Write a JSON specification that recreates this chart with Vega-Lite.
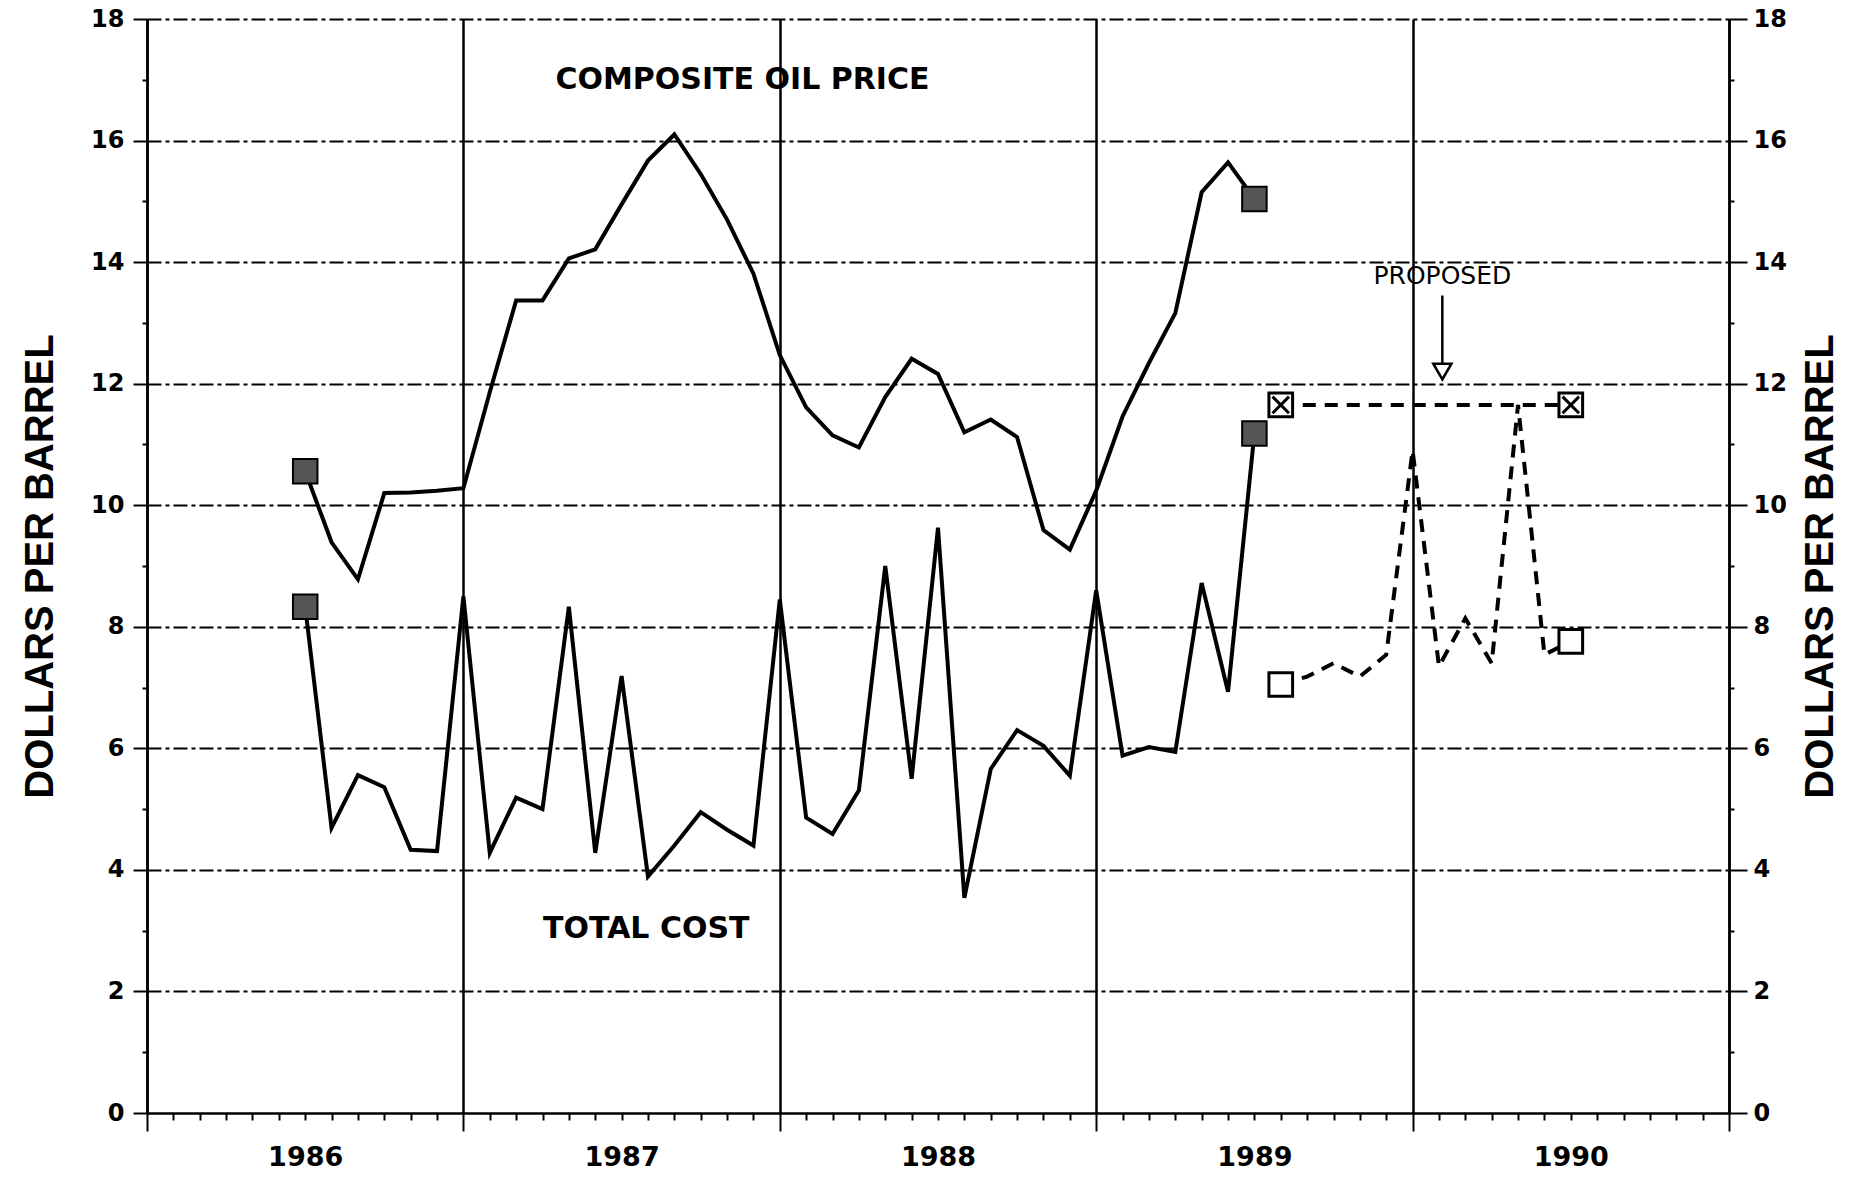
{
  "$schema": "https://vega.github.io/schema/vega-lite/v6.json",
  "autosize": {"type": "none"},
  "padding": {"left": 147, "top": 19, "right": 127, "bottom": 70},
  "width": 1582,
  "height": 1094,
  "background": "white",
  "config": {
    "view": {"stroke": null},
    "axis": {"labelColor": "black", "tickColor": "black", "domainColor": "black", "titleColor": "black"}
  },
  "datasets": {
    "series": [
      {"series": "oil", "t": 1986, "v": 10.56},
      {"series": "oil", "t": 1986.0833, "v": 9.39},
      {"series": "oil", "t": 1986.1667, "v": 8.78},
      {"series": "oil", "t": 1986.25, "v": 10.2},
      {"series": "oil", "t": 1986.3333, "v": 10.21},
      {"series": "oil", "t": 1986.4167, "v": 10.24},
      {"series": "oil", "t": 1986.5, "v": 10.28},
      {"series": "oil", "t": 1986.5833, "v": 11.86},
      {"series": "oil", "t": 1986.6667, "v": 13.37},
      {"series": "oil", "t": 1986.75, "v": 13.37},
      {"series": "oil", "t": 1986.8333, "v": 14.06},
      {"series": "oil", "t": 1986.9167, "v": 14.21},
      {"series": "oil", "t": 1987, "v": 14.95},
      {"series": "oil", "t": 1987.0833, "v": 15.67},
      {"series": "oil", "t": 1987.1667, "v": 16.1},
      {"series": "oil", "t": 1987.25, "v": 15.45},
      {"series": "oil", "t": 1987.3333, "v": 14.7},
      {"series": "oil", "t": 1987.4167, "v": 13.81},
      {"series": "oil", "t": 1987.5, "v": 12.47},
      {"series": "oil", "t": 1987.5833, "v": 11.61},
      {"series": "oil", "t": 1987.6667, "v": 11.15},
      {"series": "oil", "t": 1987.75, "v": 10.95},
      {"series": "oil", "t": 1987.8333, "v": 11.78},
      {"series": "oil", "t": 1987.9167, "v": 12.41},
      {"series": "oil", "t": 1988, "v": 12.16},
      {"series": "oil", "t": 1988.0833, "v": 11.2},
      {"series": "oil", "t": 1988.1667, "v": 11.41},
      {"series": "oil", "t": 1988.25, "v": 11.12},
      {"series": "oil", "t": 1988.3333, "v": 9.59},
      {"series": "oil", "t": 1988.4167, "v": 9.27},
      {"series": "oil", "t": 1988.5, "v": 10.24},
      {"series": "oil", "t": 1988.5833, "v": 11.46},
      {"series": "oil", "t": 1988.6667, "v": 12.34},
      {"series": "oil", "t": 1988.75, "v": 13.16},
      {"series": "oil", "t": 1988.8333, "v": 15.15},
      {"series": "oil", "t": 1988.9167, "v": 15.64},
      {"series": "oil", "t": 1989, "v": 15.04},
      {"series": "cost", "t": 1986, "v": 8.33},
      {"series": "cost", "t": 1986.0833, "v": 4.69},
      {"series": "cost", "t": 1986.1667, "v": 5.56},
      {"series": "cost", "t": 1986.25, "v": 5.36},
      {"series": "cost", "t": 1986.3333, "v": 4.33},
      {"series": "cost", "t": 1986.4167, "v": 4.31},
      {"series": "cost", "t": 1986.5, "v": 8.5},
      {"series": "cost", "t": 1986.5833, "v": 4.28},
      {"series": "cost", "t": 1986.6667, "v": 5.19},
      {"series": "cost", "t": 1986.75, "v": 5.0},
      {"series": "cost", "t": 1986.8333, "v": 8.33},
      {"series": "cost", "t": 1986.9167, "v": 4.28},
      {"series": "cost", "t": 1987, "v": 7.19},
      {"series": "cost", "t": 1987.0833, "v": 3.89},
      {"series": "cost", "t": 1987.1667, "v": 4.4},
      {"series": "cost", "t": 1987.25, "v": 4.95},
      {"series": "cost", "t": 1987.3333, "v": 4.66},
      {"series": "cost", "t": 1987.4167, "v": 4.4},
      {"series": "cost", "t": 1987.5, "v": 8.45},
      {"series": "cost", "t": 1987.5833, "v": 4.86},
      {"series": "cost", "t": 1987.6667, "v": 4.59},
      {"series": "cost", "t": 1987.75, "v": 5.31},
      {"series": "cost", "t": 1987.8333, "v": 9.0},
      {"series": "cost", "t": 1987.9167, "v": 5.5},
      {"series": "cost", "t": 1988, "v": 9.63},
      {"series": "cost", "t": 1988.0833, "v": 3.54},
      {"series": "cost", "t": 1988.1667, "v": 5.66},
      {"series": "cost", "t": 1988.25, "v": 6.3},
      {"series": "cost", "t": 1988.3333, "v": 6.04},
      {"series": "cost", "t": 1988.4167, "v": 5.55},
      {"series": "cost", "t": 1988.5, "v": 8.6},
      {"series": "cost", "t": 1988.5833, "v": 5.88},
      {"series": "cost", "t": 1988.6667, "v": 6.02},
      {"series": "cost", "t": 1988.75, "v": 5.94},
      {"series": "cost", "t": 1988.8333, "v": 8.72},
      {"series": "cost", "t": 1988.9167, "v": 6.93},
      {"series": "cost", "t": 1989, "v": 11.18},
      {"series": "upper", "t": 1989.0833, "v": 11.65},
      {"series": "upper", "t": 1990, "v": 11.65},
      {"series": "lower", "t": 1989.0833, "v": 7.05},
      {"series": "lower", "t": 1989.1667, "v": 7.18},
      {"series": "lower", "t": 1989.25, "v": 7.4},
      {"series": "lower", "t": 1989.3333, "v": 7.18},
      {"series": "lower", "t": 1989.4167, "v": 7.54},
      {"series": "lower", "t": 1989.5, "v": 10.9},
      {"series": "lower", "t": 1989.5833, "v": 7.35},
      {"series": "lower", "t": 1989.6667, "v": 8.14},
      {"series": "lower", "t": 1989.75, "v": 7.4},
      {"series": "lower", "t": 1989.8333, "v": 11.65},
      {"series": "lower", "t": 1989.9167, "v": 7.54},
      {"series": "lower", "t": 1990, "v": 7.76}
    ],
    "notes": [
      {"label": "COMPOSITE OIL PRICE", "t": 1987.382, "v": 16.99},
      {"label": "TOTAL COST", "t": 1987.078, "v": 3.035}
    ],
    "proposed": [
      {"label": "PROPOSED", "t": 1989.594, "v": 13.77, "top": 13.45, "bottom": 12.3, "head": 12.2}
    ]
  },
  "layer": [
    {
      "data": {"name": "series"},
      "transform": [{"filter": "datum.series === 'oil' || datum.series === 'cost'"}],
      "mark": {"type": "line", "color": "black", "strokeWidth": 4},
      "encoding": {
        "x": {
          "field": "t", "type": "quantitative",
          "scale": {"domain": [1985.5, 1990.5], "nice": false, "zero": false},
          "axis": {
            "orient": "bottom",
            "title": null,
            "values": [1985.5, 1985.5833, 1985.6667, 1985.75, 1985.8333, 1985.9167,
              1986, 1986.0833, 1986.1667, 1986.25, 1986.3333, 1986.4167, 1986.5, 1986.5833, 1986.6667, 1986.75, 1986.8333, 1986.9167,
              1987, 1987.0833, 1987.1667, 1987.25, 1987.3333, 1987.4167, 1987.5, 1987.5833, 1987.6667, 1987.75, 1987.8333, 1987.9167,
              1988, 1988.0833, 1988.1667, 1988.25, 1988.3333, 1988.4167, 1988.5, 1988.5833, 1988.6667, 1988.75, 1988.8333, 1988.9167,
              1989, 1989.0833, 1989.1667, 1989.25, 1989.3333, 1989.4167, 1989.5, 1989.5833, 1989.6667, 1989.75, 1989.8333, 1989.9167,
              1990, 1990.0833, 1990.1667, 1990.25, 1990.3333, 1990.4167, 1990.5],
            "labelExpr": "abs(datum.value - round(datum.value)) < 0.01 ? format(round(datum.value), 'd') : ''",
            "labelOverlap": false,
            "labelFlush": false,
            "labelBound": false,
            "labelFont": "DejaVu Sans",
            "labelFontWeight": "bold",
            "labelFontSize": 27,
            "labelPadding": 24,
            "tickSize": {"condition": {"test": "abs(datum.value * 2 - round(datum.value * 2)) < 0.01 && abs(datum.value - round(datum.value)) > 0.1", "value": 18}, "value": 7},
            "tickWidth": 2,
            "domainWidth": 2.5,
            "grid": true,
            "gridColor": "black",
            "gridWidth": 2.5,
            "gridOpacity": {"condition": {"test": "abs(datum.value * 2 - round(datum.value * 2)) < 0.01 && abs(datum.value - round(datum.value)) > 0.1", "value": 1}, "value": 0}
          }
        },
        "y": {
          "field": "v", "type": "quantitative",
          "scale": {"domain": [0, 18], "nice": false, "zero": false},
          "axis": {
            "orient": "left",
            "values": [0, 1, 2, 3, 4, 5, 6, 7, 8, 9, 10, 11, 12, 13, 14, 15, 16, 17, 18],
            "labelExpr": "datum.value % 2 === 0 ? format(datum.value, 'd') : ''",
            "labelOverlap": false,
            "labelBound": false,
            "labelFlush": false,
            "labelFont": "DejaVu Sans",
            "labelFontWeight": "bold",
            "labelFontSize": 24,
            "labelPadding": 9,
            "tickSize": {"condition": {"test": "datum.value % 2 === 0", "value": 14}, "value": 5},
            "tickWidth": 2,
            "domainWidth": 2.5,
            "grid": true,
            "gridColor": "black",
            "gridWidth": 2,
            "gridDash": [14, 4, 4, 4],
            "gridOpacity": {"condition": {"test": "datum.value % 2 === 0 && datum.value > 0", "value": 1}, "value": 0},
            "title": "DOLLARS PER BARREL",
            "titleFont": "Liberation Sans",
            "titleFontWeight": "bold",
            "titleFontSize": 40,
            "titleAngle": 270,
            "titleBaseline": "middle",
            "titleAlign": "center",
            "titleX": -107,
            "titleY": 547
          }
        },
        "detail": {"field": "series"}
      }
    },
    {
      "data": {"name": "series"},
      "transform": [{"filter": "datum.series === 'upper' || datum.series === 'lower'"}],
      "mark": {"type": "line", "color": "black", "strokeWidth": 4, "strokeDash": [13, 9]},
      "encoding": {
        "x": {"field": "t", "type": "quantitative", "scale": {"domain": [1985.5, 1990.5], "nice": false, "zero": false}, "axis": null},
        "y": {
          "field": "v", "type": "quantitative",
          "scale": {"domain": [0, 18], "nice": false, "zero": false},
          "axis": {
            "orient": "right",
            "values": [0, 1, 2, 3, 4, 5, 6, 7, 8, 9, 10, 11, 12, 13, 14, 15, 16, 17, 18],
            "labelExpr": "datum.value % 2 === 0 ? format(datum.value, 'd') : ''",
            "labelOverlap": false,
            "labelBound": false,
            "labelFlush": false,
            "labelFont": "DejaVu Sans",
            "labelFontWeight": "bold",
            "labelFontSize": 24,
            "labelPadding": 6,
            "tickSize": {"condition": {"test": "datum.value % 2 === 0", "value": 18}, "value": 5},
            "tickWidth": 2,
            "domainWidth": 2.5,
            "grid": false,
            "title": "DOLLARS PER BARREL",
            "titleFont": "Liberation Sans",
            "titleFontWeight": "bold",
            "titleFontSize": 40,
            "titleAngle": 270,
            "titleBaseline": "middle",
            "titleAlign": "center",
            "titleX": 91,
            "titleY": 547
          }
        },
        "detail": {"field": "series"}
      }
    },
    {
      "data": {"name": "series"},
      "transform": [{"filter": "(datum.series === 'oil' || datum.series === 'cost') && (datum.t === 1986 || datum.t === 1989)"}],
      "mark": {"type": "point", "shape": "square", "filled": true, "fill": "#555555", "stroke": "black", "strokeWidth": 2, "size": 600, "opacity": 1},
      "encoding": {
        "x": {"field": "t", "type": "quantitative", "scale": {"domain": [1985.5, 1990.5], "nice": false, "zero": false}, "axis": null},
        "y": {"field": "v", "type": "quantitative", "scale": {"domain": [0, 18], "nice": false, "zero": false}, "axis": null}
      }
    },
    {
      "data": {"name": "series"},
      "transform": [{"filter": "datum.series === 'upper'"}],
      "mark": {"type": "point", "shape": "M-1,-1H1V1H-1Z M-0.7,-0.7L0.7,0.7 M0.7,-0.7L-0.7,0.7", "filled": true, "fill": "white", "stroke": "black", "strokeWidth": 3, "size": 560, "opacity": 1},
      "encoding": {
        "x": {"field": "t", "type": "quantitative", "scale": {"domain": [1985.5, 1990.5], "nice": false, "zero": false}, "axis": null},
        "y": {"field": "v", "type": "quantitative", "scale": {"domain": [0, 18], "nice": false, "zero": false}, "axis": null}
      }
    },
    {
      "data": {"name": "series"},
      "transform": [{"filter": "datum.series === 'lower' && (datum.t === 1989.0833 || datum.t === 1990)"}],
      "mark": {"type": "point", "shape": "square", "filled": true, "fill": "white", "stroke": "black", "strokeWidth": 3, "size": 560, "opacity": 1},
      "encoding": {
        "x": {"field": "t", "type": "quantitative", "scale": {"domain": [1985.5, 1990.5], "nice": false, "zero": false}, "axis": null},
        "y": {"field": "v", "type": "quantitative", "scale": {"domain": [0, 18], "nice": false, "zero": false}, "axis": null}
      }
    },
    {
      "data": {"name": "notes"},
      "mark": {"type": "text", "font": "DejaVu Sans", "fontWeight": "bold", "fontSize": 30, "color": "black", "align": "center", "baseline": "middle"},
      "encoding": {
        "x": {"field": "t", "type": "quantitative", "scale": {"domain": [1985.5, 1990.5], "nice": false, "zero": false}, "axis": null},
        "y": {"field": "v", "type": "quantitative", "scale": {"domain": [0, 18], "nice": false, "zero": false}, "axis": null},
        "text": {"field": "label"}
      }
    },
    {
      "data": {"name": "proposed"},
      "mark": {"type": "text", "font": "DejaVu Sans", "fontSize": 25, "color": "black", "align": "center", "baseline": "middle"},
      "encoding": {
        "x": {"field": "t", "type": "quantitative", "scale": {"domain": [1985.5, 1990.5], "nice": false, "zero": false}, "axis": null},
        "y": {"field": "v", "type": "quantitative", "scale": {"domain": [0, 18], "nice": false, "zero": false}, "axis": null},
        "text": {"field": "label"}
      }
    },
    {
      "data": {"name": "proposed"},
      "mark": {"type": "rule", "color": "black", "strokeWidth": 2.5},
      "encoding": {
        "x": {"field": "t", "type": "quantitative", "scale": {"domain": [1985.5, 1990.5], "nice": false, "zero": false}, "axis": null},
        "y": {"field": "top", "type": "quantitative", "scale": {"domain": [0, 18], "nice": false, "zero": false}, "axis": null},
        "y2": {"field": "bottom"}
      }
    },
    {
      "data": {"name": "proposed"},
      "mark": {"type": "point", "shape": "triangle-down", "filled": true, "fill": "white", "stroke": "black", "strokeWidth": 2.5, "size": 330, "opacity": 1},
      "encoding": {
        "x": {"field": "t", "type": "quantitative", "scale": {"domain": [1985.5, 1990.5], "nice": false, "zero": false}, "axis": null},
        "y": {"field": "head", "type": "quantitative", "scale": {"domain": [0, 18], "nice": false, "zero": false}, "axis": null}
      }
    }
  ],
  "resolve": {"axis": {"x": "independent", "y": "independent"}}
}
